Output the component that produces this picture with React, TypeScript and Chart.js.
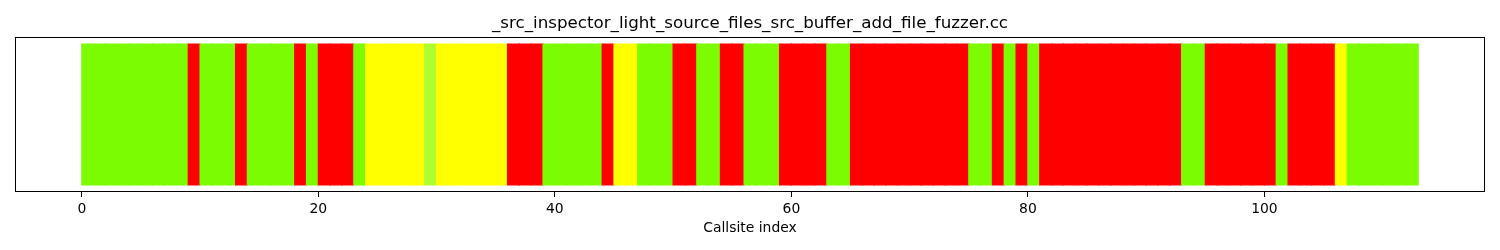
import React, { useEffect, useRef } from "react";
import { Chart, registerables } from "chart.js";

Chart.register(...registerables);

const chartTitle = "_src_inspector_light_source_files_src_buffer_add_file_fuzzer.cc";
const xAxisLabel = "Callsite index";
const xTickValues = [0, 20, 40, 60, 80, 100];

// Status per callsite (index 0..112): G = covered, R = uncovered, Y = partial, L = light
const callsiteStatus = [
  "G", "G", "G", "G", "G", "G", "G", "G", "G",
  "R",
  "G", "G", "G",
  "R",
  "G", "G", "G", "G",
  "R",
  "G",
  "R", "R", "R",
  "G",
  "Y", "Y", "Y", "Y", "Y",
  "L",
  "Y", "Y", "Y", "Y", "Y", "Y",
  "R", "R", "R",
  "G", "G", "G", "G", "G",
  "R",
  "Y", "Y",
  "G", "G", "G",
  "R", "R",
  "G", "G",
  "R", "R",
  "G", "G", "G",
  "R", "R", "R", "R",
  "G", "G",
  "R", "R", "R", "R", "R", "R", "R", "R", "R", "R",
  "G", "G",
  "R",
  "G",
  "R",
  "G",
  "R", "R", "R", "R", "R", "R", "R", "R", "R", "R", "R", "R",
  "G", "G",
  "R", "R", "R", "R", "R", "R",
  "G",
  "R", "R", "R", "R",
  "Y",
  "G", "G", "G", "G", "G", "G",
];

const statusColors: Record<string, string> = {
  G: "#7CFC00",
  R: "#FF0000",
  Y: "#FFFF00",
  L: "#ADFF2F",
};

const FONT = "'DejaVu Sans', sans-serif";

export default function App() {
  const canvasRef = useRef<HTMLCanvasElement | null>(null);

  useEffect(() => {
    if (!canvasRef.current) return;
    const framePlugin = {
      id: "frameAndTitle",
      afterDatasetsDraw(chart: any) {
        const { ctx, chartArea } = chart;
        ctx.save();
        ctx.strokeStyle = "#000";
        ctx.lineWidth = 1;
        ctx.strokeRect(
          Math.round(chartArea.left) + 0.5,
          Math.round(chartArea.top) + 0.5,
          Math.round(chartArea.right - chartArea.left) - 1,
          Math.round(chartArea.bottom - chartArea.top) - 1
        );
        ctx.fillStyle = "#000";
        ctx.font = `16.7px ${FONT}`;
        ctx.textAlign = "center";
        ctx.textBaseline = "alphabetic";
        ctx.fillText(chartTitle, (chartArea.left + chartArea.right) / 2, chartArea.top - 9);
        ctx.restore();
      },
    };

    const chart = new Chart(canvasRef.current, {
      type: "bar",
      data: {
        datasets: [
          {
            data: callsiteStatus.map((_, i) => ({ x: i + 0.5, y: 1 })),
            backgroundColor: callsiteStatus.map((s) => statusColors[s]),
            borderWidth: 0,
            inflateAmount: 0.6,
            barPercentage: 1,
            categoryPercentage: 1,
          },
        ],
      },
      options: {
        animation: false,
        responsive: true,
        maintainAspectRatio: false,
        layout: { padding: { top: 37, left: 15, right: 15, bottom: 13 } },
        plugins: {
          legend: { display: false },
          tooltip: { enabled: false },
          title: { display: false },
        },
        scales: {
          x: {
            type: "linear",
            offset: false,
            min: -5.65,
            max: 118.65,
            afterBuildTicks: (scale: any) => {
              scale.ticks = xTickValues.map((v) => ({ value: v }));
            },
            afterFit: (scale: any) => {
              scale.height = 45;
            },
            grid: {
              display: true,
              offset: false,
              drawOnChartArea: false,
              drawTicks: true,
              tickLength: 5,
              color: "#000",
              lineWidth: 1,
            },
            border: { display: false },
            ticks: {
              color: "#000",
              font: { family: FONT, size: 13.9 },
              padding: 4,
              maxRotation: 0,
              autoSkip: false,
              callback: (v: any) => String(v),
            },
            title: {
              display: true,
              text: xAxisLabel,
              color: "#000",
              font: { family: FONT, size: 13.9 },
              padding: { top: 2, bottom: 0 },
            },
          },
          y: {
            display: false,
            min: -0.05,
            max: 1.05,
          },
        },
      },
      plugins: [framePlugin],
    } as any);
    return () => chart.destroy();
  }, []);

  return (
    <div style={{ position: "absolute", left: 0, top: 0, width: 1500, height: 250, background: "#fff" }}>
      <canvas ref={canvasRef} />
    </div>
  );
}
